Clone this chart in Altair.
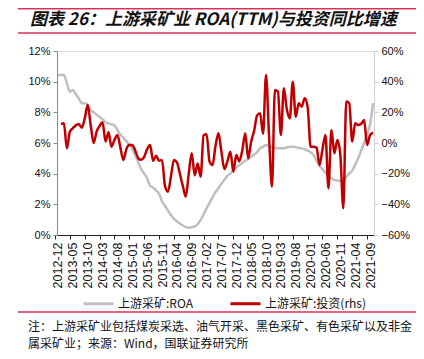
import altair as alt
import pandas as pd

# monthly categories 2012-12 .. 2021-10
months = [d.strftime("%Y-%m") for d in pd.date_range("2012-12-01", periods=107, freq="MS")]
tick_labels = months[::5]

roa = [
    10.44, 10.44, 10.44, 9.9, 9.35, 9.45, 9.2, 8.9, 8.6, 8.6,
    8.5, 8.15, 8.0, 7.85, 7.7, 7.55, 7.35, 7.28, 7.22, 7.15,
    6.85, 6.55, 6.35, 6.12, 5.9, 5.6, 5.2, 4.75, 4.3, 4.0,
    3.7, 3.2, 3.1, 2.9, 2.7, 2.2, 1.9, 1.6, 1.3, 1.05,
    0.9, 0.75, 0.62, 0.52, 0.48, 0.5, 0.56, 0.7, 0.98, 1.35,
    1.74, 2.1, 2.45, 2.8, 3.05, 3.35, 3.6, 3.85, 4.0, 4.24,
    4.4, 4.55, 4.7, 4.85, 4.95, 5.1, 5.25, 5.4, 5.66, 5.75,
    5.87, 5.8, 5.75, 5.7, 5.65, 5.65, 5.65, 5.72, 5.76, 5.76,
    5.72, 5.68, 5.65, 5.6, 5.5, 5.4, 5.22, 4.85, 4.5, 4.3,
    4.05, 3.85, 3.7, 3.6, 3.55, 3.52, 3.52, 3.8, 4.0, 4.2,
    4.6, 5.0, 5.5, 6.0, 6.6, 7.2, 8.6,
]

invest = [
    None, 12.4, 12.8, -3.5, 7.4, 9.6, 11.5, 12.4, 10, 16,
    24.8, 11.7, 0, 7.4, 11.1, 13.5, 1, 7, -2.4, 2,
    5.2, -3, -11.1, -4, -1.3, -1.3, -5, -10, -11, -9,
    -4, -1.3, -11.7, -8.3, -11.5, -11.1, -28, -31.8, -22, -11.1,
    -12.5, -20, -28, -35, -20, -6.7, -21, -13.3, -22, 5,
    5.7, -12.2, -14.4, -2, 6.3, -5.7, -17, -12, -5.7, -18.7,
    -7.8, -12, -5, 6.3, -10, 0.9, 8, 18, 19.4, 6,
    44.4, 5, -28.5, 34.6, 33.5, 5.2, 35.7, 22, 16, 40,
    17.2, 25.9, 23.7, 29.2, 23.7, -2.4, -2.4, -3, -14.4, -4,
    5.2, -29.6, 8.5, -6.7, 2, -7.8, -42.6, 27, 25.9, 0.9,
    12.8, 11.7, 12.5, 15, -1.3, 5.2, 6.7,
]

series_names = ["上游采矿:ROA", "上游采矿:投资(rhs)"]
title_text = "图表 26：上游采矿业 ROA(TTM)与投资同比增速"
note1 = "注：上游采矿业包括煤炭采选、油气开采、黑色采矿、有色采矿以及非金"
note2 = "属采矿业；来源：Wind，国联证券研究所"

idx = list(range(len(months)))
df_roa = pd.DataFrame({"i": idx, "month": months, "v": roa, "series": series_names[0]})
df_inv = pd.DataFrame({"i": idx, "month": months, "v": invest, "series": series_names[1]})

xscale = alt.Scale(domain=[-0.33, 106.33], nice=False, zero=False)
tick_vals = list(range(0, 106, 5))
label_expr = " : ".join(
    "datum.value == %d ? '%s'" % (v, t) for v, t in zip(tick_vals, tick_labels)
) + " : ''"

x_enc = alt.X(
    "i:Q", scale=xscale, title=None,
    axis=alt.Axis(values=tick_vals, labelExpr=label_expr,
                  labelAngle=-90, labelAlign="right", labelBaseline="middle",
                  labelFont="Liberation Sans", labelFontSize=12.5,
                  labelColor="#111", domainColor="#222", tickColor="#222",
                  tickSize=4, tickOffset=-3, labelOffset=3, labelPadding=3,
                  labelOverlap=False, grid=False),
)

color_scale = alt.Scale(domain=series_names, range=["#bfbfbf", "#c00000"])
legend = alt.Legend(orient="none", legendX=25, legendY=236, direction="horizontal",
                    title=None, symbolType="stroke", symbolSize=900,
                    symbolStrokeWidth=3, labelFont="Noto Sans CJK SC",
                    labelFontSize=12, labelColor="#111", labelOffset=3,
                    columnPadding=30, padding=0)

roa_line = alt.Chart(df_roa).mark_line(strokeWidth=2.5, interpolate="monotone").encode(
    x=x_enc,
    y=alt.Y("v:Q", scale=alt.Scale(domain=[0, 12], nice=False), title=None,
            axis=alt.Axis(values=[0, 2, 4, 6, 8, 10, 12], labelExpr="datum.value + '%'",
                          labelFont="Liberation Sans", labelFontSize=11, labelColor="#111",
                          domainColor="#8a8a8a", tickColor="#8a8a8a", tickSize=4,
                          labelPadding=3, grid=False)),
    color=alt.Color("series:N", scale=color_scale, legend=legend),
)

inv_line = alt.Chart(df_inv).mark_line(strokeWidth=2.5, interpolate="monotone").encode(
    x=x_enc,
    y=alt.Y("v:Q", scale=alt.Scale(domain=[-60, 60], nice=False), title=None,
            axis=alt.Axis(orient="right", values=[-60, -40, -20, 0, 20, 40, 60],
                          labelExpr="format(datum.value/100, '.0%')",
                          labelFont="Liberation Sans", labelFontSize=11, labelColor="#111",
                          domainColor="#cfcfcf", tickColor="#cfcfcf", tickSize=4,
                          labelPadding=3, grid=False)),
    color=alt.Color("series:N", scale=color_scale, legend=legend),
)

one = pd.DataFrame({"t": [title_text]})
title_mark = alt.Chart(one).mark_text(
    font="Noto Sans CJK SC", fontSize=17, fontWeight="bold", fontStyle="italic",
    align="left", baseline="middle", color="#111"
).encode(x=alt.value(-27), y=alt.value(-31), text="t:N")

notes = pd.DataFrame({"t": [note1, note2], "yy": [276, 293]})
note_mark = alt.Chart(notes).mark_text(
    font="Noto Sans CJK SC", fontSize=12, align="left", baseline="middle", color="#111"
).encode(x=alt.value(-29), y=alt.Y("yy:Q", scale=None), text="t:N")

rules = pd.DataFrame({"yy": [-42.2, -18, 261]})
rule_mark = alt.Chart(rules).mark_rule(color="#d9315a", strokeWidth=1.5).encode(
    x=alt.value(-39), x2=alt.value(359), y=alt.Y("yy:Q", scale=None))

chart = alt.layer(roa_line, inv_line, title_mark, note_mark, rule_mark).resolve_scale(
    y="independent"
).properties(
    width=317, height=184,
    autosize=alt.AutoSizeParams(type="none"),
    padding={"left": 49, "top": 43, "right": 42, "bottom": 116},
).configure_view(stroke=None).configure(background="white")

chart.save("out.html", embed_options={"renderer": "svg", "actions": False})
